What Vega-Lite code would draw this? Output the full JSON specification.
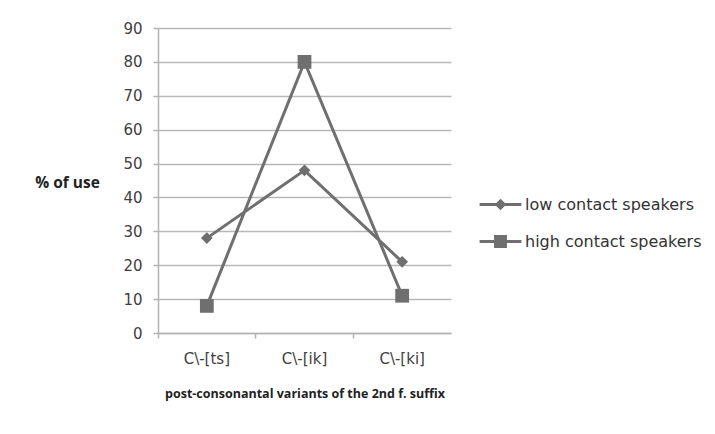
{
  "$schema": "https://vega.github.io/schema/vega-lite/v6.json",
  "width": 293,
  "height": 305,
  "autosize": "none",
  "padding": {"left": 158, "top": 28, "right": 264, "bottom": 101},
  "background": "white",
  "config": {
    "font": "DejaVu Sans",
    "view": {"stroke": null},
    "axis": {"labelFont": "DejaVu Sans", "labelFontSize": 15, "labelColor": "#404040", "titleFont": "Open Sans", "titleFontSize": 12.5, "titleFontWeight": "bold", "titleColor": "#222"}
  },
  "data": {
    "values": [
      {"variant": "C\\-[ts]", "series": "low contact speakers", "pct": 28},
      {"variant": "C\\-[ik]", "series": "low contact speakers", "pct": 48},
      {"variant": "C\\-[ki]", "series": "low contact speakers", "pct": 21},
      {"variant": "C\\-[ts]", "series": "high contact speakers", "pct": 8},
      {"variant": "C\\-[ik]", "series": "high contact speakers", "pct": 80},
      {"variant": "C\\-[ki]", "series": "high contact speakers", "pct": 11}
    ]
  },
  "encoding": {
    "x": {
      "field": "variant", "type": "nominal", "sort": ["C\\-[ts]", "C\\-[ik]", "C\\-[ki]"],
      "scale": {"type": "band", "paddingInner": 0, "paddingOuter": 0},
      "bandPosition": 0.5,
      "axis": {
        "title": "post-consonantal variants of the 2nd f. suffix",
        "labelAngle": 0, "bandPosition": 0, "domainColor": "#b3b3b3", "domainWidth": 1.5,
        "tickColor": "#b3b3b3", "tickSize": 5, "tickWidth": 1.5, "labelPadding": 13, "titlePadding": 21
      }
    },
    "y": {
      "field": "pct", "type": "quantitative",
      "scale": {"domain": [0, 90], "nice": false},
      "axis": {
        "title": "% of use", "values": [0,10,20,30,40,50,60,70,80,90],
        "titleAngle": 0, "titleX": -91, "titleY": 154, "titleAlign": "center", "titleBaseline": "middle", "titleFontSize": 15.5,
        "domainColor": "#b3b3b3", "domainWidth": 1.5, "tickColor": "#b3b3b3", "tickSize": 5, "tickWidth": 1.5,
        "gridColor": "#b8b8b8", "gridWidth": 1.5, "labelPadding": 11
      }
    }
  },
  "layer": [
    {
      "mark": {"type": "line", "color": "#6f6f6f", "strokeWidth": 3},
      "encoding": {"detail": {"field": "series"}}
    },
    {
      "mark": {"type": "point", "filled": true, "opacity": 1, "color": "#6f6f6f", "size": 190},
      "encoding": {
        "shape": {
          "field": "series", "type": "nominal",
          "scale": {"domain": ["low contact speakers", "high contact speakers"], "range": ["M0,-0.85L0.85,0L0,0.85L-0.85,0Z", "square"]},
          "legend": null
        }
      }
    },
    {
      "transform": [{"filter": "datum.pct < 0"}],
      "mark": {"type": "point", "filled": false, "opacity": 1, "color": "#6f6f6f", "strokeWidth": 3},
      "encoding": {
        "shape": {
          "field": "series", "type": "nominal",
          "scale": {"domain": ["low contact speakers", "high contact speakers"], "range": [
            "M-1.9,0L1.9,0M0,-0.33L0.33,0L0,0.33L-0.33,0ZM0,-0.18L0.18,0L0,0.18L-0.18,0Z",
            "M-1.9,0L1.9,0M-0.45,-0.45L0.45,-0.45L0.45,0.45L-0.45,0.45ZM-0.28,-0.28L0.28,-0.28L0.28,0.28L-0.28,0.28ZM-0.12,-0.12L0.12,-0.12L0.12,0.12L-0.12,0.12Z"
          ]},
          "legend": {
            "title": null, "orient": "none", "legendX": 330, "legendY": 164,
            "labelFont": "DejaVu Sans", "labelFontSize": 16, "labelColor": "#333", "labelLimit": 300,
            "symbolSize": 484, "symbolStrokeWidth": 3, "symbolStrokeColor": "#6f6f6f", "symbolFillColor": "#6f6f6f", "symbolOpacity": 1,
            "labelOffset": 12, "rowPadding": 14
          }
        }
      }
    }
  ],
  "resolve": {"scale": {"shape": "independent"}, "legend": {"shape": "independent"}}
}
